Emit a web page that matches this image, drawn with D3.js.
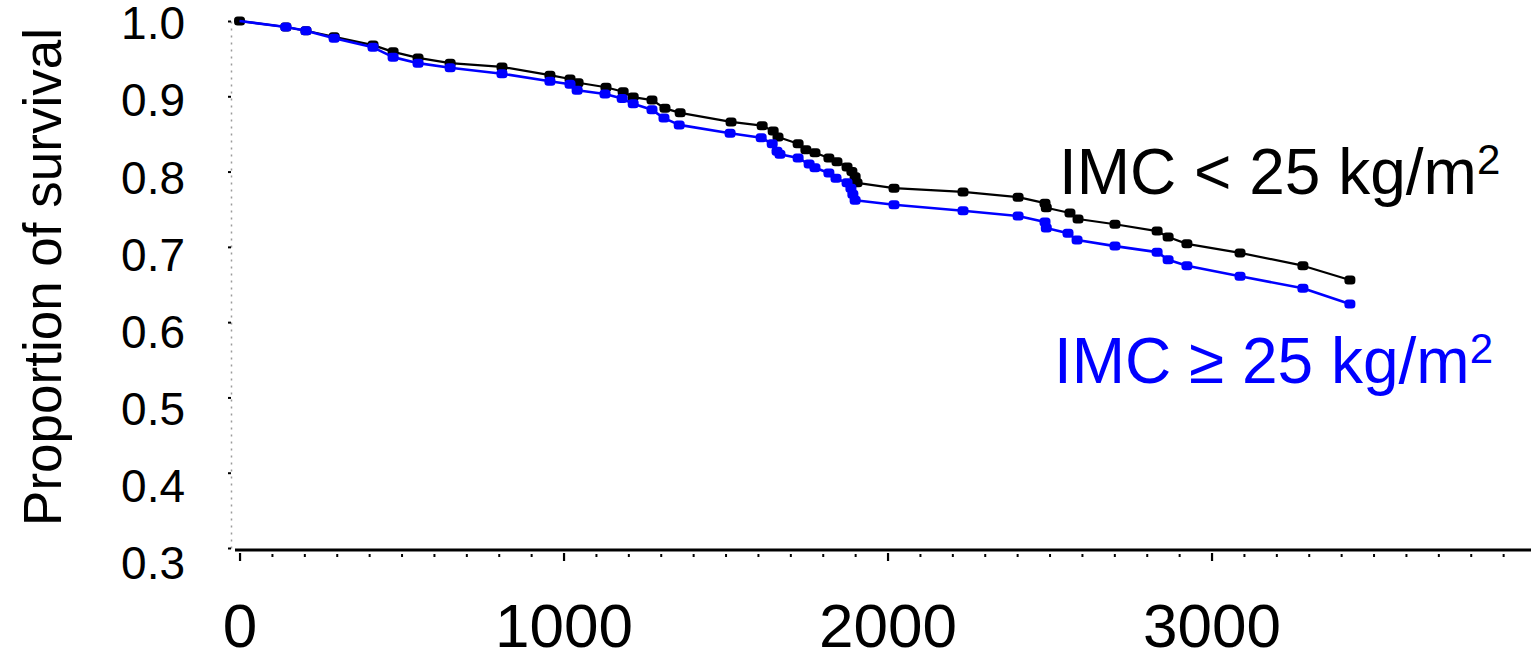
<!DOCTYPE html>
<html>
<head>
<meta charset="utf-8">
<script src="https://cdn.jsdelivr.net/npm/d3@7"></script>
<style>
  html, body { margin: 0; padding: 0; background: #fff; }
  svg { display: block; font-family: "Liberation Sans", Arial, sans-serif; }
</style>
</head>
<body>
<svg id="chart" width="1531" height="651"></svg>
<script>
// Kaplan-Meier survival estimates by BMI group (days of follow-up)
const lowBmiDays = [0, 143, 205, 292, 412, 474, 551, 650, 810, 958, 1020, 1045, 1131, 1184, 1215, 1273, 1313, 1360,
  1517, 1613, 1647, 1662, 1724, 1748, 1776, 1819, 1844, 1875, 1890, 1900, 1906, 2020, 2233, 2403, 2486, 2490,
  2563, 2588, 2702, 2832, 2866, 2924, 3088, 3282, 3427];
const lowBmiSurvival = [1.000, 0.992, 0.987, 0.979, 0.968, 0.959, 0.951, 0.944, 0.939, 0.928, 0.923, 0.918, 0.912, 0.906, 0.899, 0.895, 0.884, 0.878,
  0.866, 0.861, 0.854, 0.846, 0.837, 0.829, 0.825, 0.818, 0.813, 0.806, 0.800, 0.793, 0.785, 0.778, 0.773, 0.766, 0.758, 0.752,
  0.745, 0.737, 0.730, 0.721, 0.713, 0.704, 0.692, 0.675, 0.656];

const highBmiDays = [0, 143, 205, 292, 412, 474, 551, 650, 810, 958, 1020, 1042, 1128, 1181, 1215, 1273, 1310, 1357,
  1514, 1610, 1644, 1659, 1668, 1724, 1758, 1776, 1819, 1841, 1875, 1887, 1893, 1900, 2020, 2233, 2403, 2486, 2490,
  2557, 2585, 2702, 2832, 2866, 2924, 3088, 3282, 3427];
const highBmiSurvival = [1.000, 0.992, 0.987, 0.977, 0.965, 0.952, 0.944, 0.938, 0.930, 0.920, 0.916, 0.908, 0.903, 0.897, 0.890, 0.882, 0.871, 0.862,
  0.851, 0.845, 0.837, 0.827, 0.823, 0.818, 0.810, 0.805, 0.798, 0.791, 0.785, 0.778, 0.770, 0.762, 0.756, 0.748, 0.741, 0.733, 0.725,
  0.718, 0.709, 0.701, 0.693, 0.683, 0.675, 0.661, 0.645, 0.624];

const yTickValues = [0.3, 0.4, 0.5, 0.6, 0.7, 0.8, 0.9, 1.0];
const xMajorTicks = [0, 1000, 2000, 3000];
const seriesLabels = ["IMC < 25 kg/m", "IMC \u2265 25 kg/m"];
const yTitle = "Proportion of survival";

const svg = d3.select("#chart");

const x = d3.scaleLinear().domain([-14, 3986]).range([235, 1531]);
const y = d3.scaleLinear().domain([0.3, 1.0]).range([548, 21]);
// tick labels sit on a slightly wider spacing than the ticks themselves
const yLabelPos = d3.scaleLinear().domain([0.3, 1.0]).range([564, 24]);

// ---- y axis: dotted grey spine with small black tick dashes
const yAxisG = svg.append("g").attr("transform", "translate(231,0)")
  .call(d3.axisLeft(y).tickValues(yTickValues).tickSize(3).tickSizeOuter(0).tickFormat(""));
yAxisG.select(".domain").attr("stroke", "#9a9a9a").attr("stroke-width", 1.5)
  .attr("stroke-dasharray", "2 5");
yAxisG.selectAll(".tick line").attr("stroke", "#000").attr("stroke-width", 2);

const yLabelG = svg.append("g").attr("transform", "translate(185,0)")
  .call(d3.axisLeft(yLabelPos).tickValues(yTickValues).tickSize(0).tickPadding(0).tickFormat(d3.format(".1f")));
yLabelG.select(".domain").remove();
yLabelG.selectAll("text").attr("font-size", 46).attr("fill", "#000")
  .attr("font-family", "'Liberation Sans', Arial, sans-serif");

// ---- x axis: heavy black line, minor ticks every 100 days, labelled majors
const xAxisY = 550;
svg.append("line")
  .attr("x1", x.range()[0]).attr("x2", x.range()[1])
  .attr("y1", xAxisY).attr("y2", xAxisY)
  .attr("stroke", "#000").attr("stroke-width", 3);

const minorG = svg.append("g").attr("transform", `translate(0,${xAxisY})`)
  .call(d3.axisBottom(x).tickValues(d3.range(100, 4000, 100).filter(v => v % 1000 !== 0)).tickSize(7).tickFormat(""));
minorG.select(".domain").remove();
minorG.selectAll(".tick line").attr("y1", 4).attr("stroke", "#000").attr("stroke-width", 2);

const majorG = svg.append("g").attr("transform", `translate(0,${xAxisY})`)
  .call(d3.axisBottom(x).tickValues(xMajorTicks).tickSize(11).tickPadding(42).tickFormat(d3.format("d")));
majorG.select(".domain").remove();
majorG.selectAll(".tick line").attr("y1", 3).attr("stroke", "#000").attr("stroke-width", 2.2);
majorG.selectAll("text").attr("font-size", 62).attr("fill", "#000")
  .attr("font-family", "'Liberation Sans', Arial, sans-serif");

// ---- axis title
svg.append("text")
  .attr("transform", "translate(61,277) rotate(-90)")
  .attr("text-anchor", "middle")
  .attr("font-size", 53)
  .attr("fill", "#000")
  .text(yTitle);

// ---- survival curves
const line = d3.line().x(d => x(d[0])).y(d => y(d[1]));

function drawCurve(days, surv, color, width, markStart) {
  const pts = days.map((d, i) => [d, surv[i]]);
  svg.append("path").datum(pts)
    .attr("d", line)
    .attr("fill", "none")
    .attr("stroke", color)
    .attr("stroke-width", width)
    .attr("stroke-linejoin", "round");
  svg.append("g").selectAll("rect")
    .data(markStart ? pts : pts.slice(1))
    .join("rect")
    .attr("x", d => x(d[0]) - 5.5)
    .attr("y", d => y(d[1]) - 4.5)
    .attr("width", 11)
    .attr("height", 9)
    .attr("rx", 3.5)
    .attr("fill", color);
}

drawCurve(lowBmiDays, lowBmiSurvival, "#000000", 2.2, true);
drawCurve(highBmiDays, highBmiSurvival, "#0000ff", 2.6, false);

// ---- curve labels
function curveLabel(txt, color, lx, ly) {
  const t = svg.append("text").attr("x", lx).attr("y", ly)
    .attr("font-size", 64).attr("fill", color);
  t.append("tspan").text(txt);
  t.append("tspan").attr("font-size", 42).attr("dy", -20).text("2");
}
curveLabel(seriesLabels[0], "#000000", 1059, 194);
curveLabel(seriesLabels[1], "#0000ff", 1054, 383);
</script>
</body>
</html>
